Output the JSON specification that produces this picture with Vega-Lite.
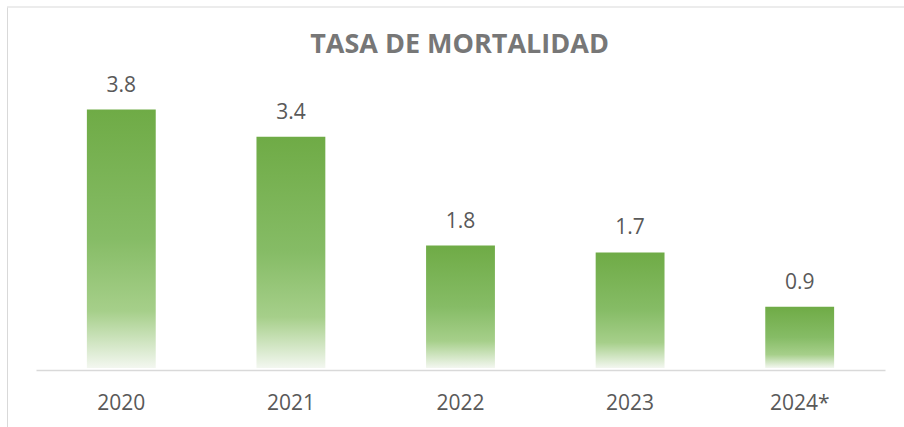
{
  "$schema": "https://vega.github.io/schema/vega-lite/v6.json",
  "width": 897,
  "height": 420,
  "autosize": {"type": "none"},
  "padding": {"left": 7, "top": 7, "right": 0, "bottom": 0},
  "background": "white",
  "title": {
    "text": "TASA DE MORTALIDAD",
    "font": "Open Sans",
    "fontSize": 27,
    "fontWeight": "bold",
    "color": "#777777",
    "anchor": "middle",
    "baseline": "alphabetic",
    "offset": -73,
    "dx": 4
  },
  "data": {
    "values": [
      {"year": "2020", "rate": 3.8},
      {"year": "2021", "rate": 3.4},
      {"year": "2022", "rate": 1.8},
      {"year": "2023", "rate": 1.7},
      {"year": "2024*", "rate": 0.9}
    ]
  },
  "layer": [
    {
      "mark": {
        "type": "bar",
        "color": {
          "gradient": "linear",
          "x1": 0, "y1": 0, "x2": 0, "y2": 1,
          "stops": [
            {"offset": 0, "color": "#6FAB46"},
            {"offset": 0.5, "color": "#86BC66"},
            {"offset": 0.78, "color": "#A6CF8A"},
            {"offset": 1, "color": "#F3F7F0"}
          ]
        }
      },
      "encoding": {
        "x": {
          "field": "year", "type": "nominal", "sort": null,
          "scale": {"range": [29, 878], "paddingInner": 0.594, "paddingOuter": 0.3},
          "axis": {
            "orient": "bottom", "offset": -57, "title": null, "labelAngle": 0,
            "ticks": false, "tickSize": 0, "labelPadding": 22,
            "labelFont": "Open Sans", "labelFontSize": 21, "labelColor": "#595959",
            "domainColor": "#D9D9D9", "domainWidth": 1.5
          }
        },
        "y": {
          "field": "rate", "type": "quantitative",
          "scale": {"domain": [-0.868, 5.309], "nice": false, "zero": false},
          "axis": {"title": null, "labels": false, "ticks": false, "grid": false, "domainColor": "#D9D9D9", "domainWidth": 1}
        },
        "y2": {"datum": 0}
      }
    },
    {
      "mark": {"type": "text", "dy": -18, "baseline": "alphabetic", "font": "Open Sans", "fontSize": 21, "color": "#595959"},
      "encoding": {
        "x": {"field": "year", "type": "nominal", "sort": null},
        "y": {"field": "rate", "type": "quantitative"},
        "text": {"field": "rate", "type": "quantitative", "format": ".1f"}
      }
    },
    {
      "data": {"values": [{}]},
      "mark": {"type": "rule", "color": "#D9D9D9", "strokeWidth": 1},
      "encoding": {"y": {"datum": 5.309, "type": "quantitative"}}
    }
  ],
  "config": {"view": {"stroke": null}}
}
